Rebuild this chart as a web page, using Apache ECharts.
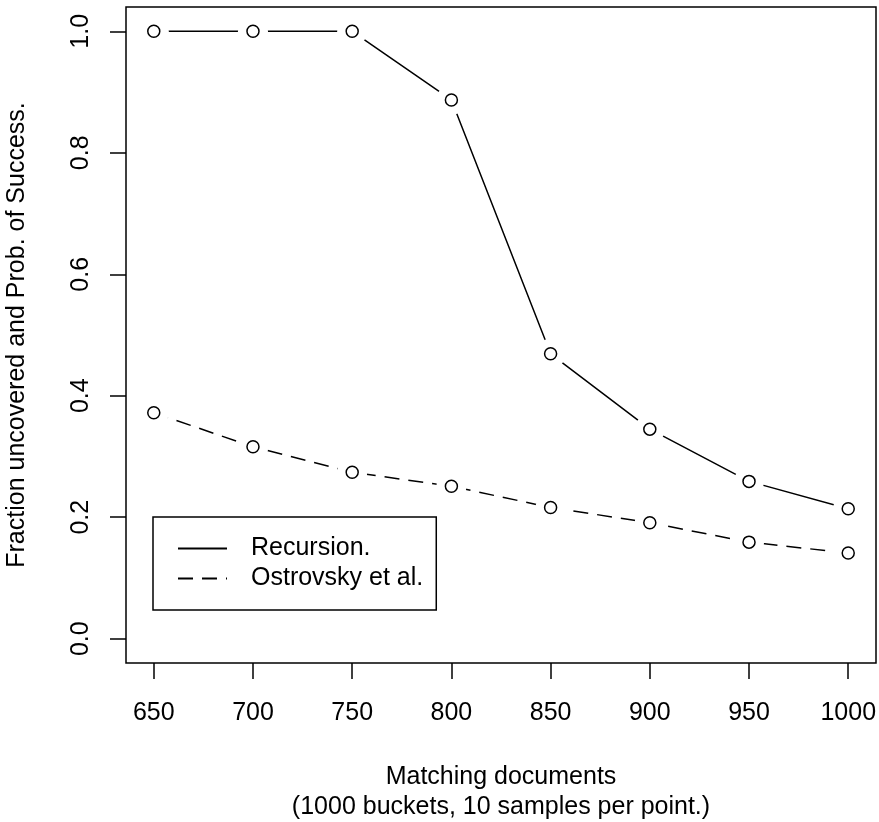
<!DOCTYPE html>
<html>
<head>
<meta charset="utf-8">
<title>Fraction uncovered</title>
<script src="https://cdn.jsdelivr.net/npm/echarts@6/dist/echarts.min.js"></script>
<style>
	html, body { margin: 0; padding: 0; background: #fff; }
	#chart { width: 879px; height: 822px; }
</style>
</head>
<body>
<div id="chart"></div>
<script>
// matching documents (x)
const docs = [650, 700, 750, 800, 850, 900, 950, 1000];
// recursion method
const recursion = [1.0, 1.0, 1.0, 0.887, 0.469, 0.345, 0.259, 0.214];
// Ostrovsky et al.
const ostrovsky = [0.372, 0.316, 0.274, 0.251, 0.216, 0.191, 0.159, 0.141];
const xTicks = [650, 700, 750, 800, 850, 900, 950, 1000];
const yTicks = [0, 0.2, 0.4, 0.6, 0.8, 1.0];

const font = "'Liberation Sans', Arial, Helvetica, sans-serif";
const pairs = (ys) => docs.map((d, i) => [d, ys[i]]);

const chart = echarts.init(document.getElementById("chart"), null, { renderer: "canvas" });

chart.setOption({
	animation: false,
	backgroundColor: "#fff",
	textStyle: { fontFamily: font, color: "#000" },
	grid: {
		left: 126,
		right: 3,
		top: 7,
		bottom: 159,
		outerBoundsMode: "none",
		containLabel: false,
		show: true,
		borderColor: "#000",
		borderWidth: 1.5,
	},
	legend: {
		data: ["Recursion.", "Ostrovsky et al."],
		orient: "vertical",
		left: 153,
		top: 517,
		padding: [19, 13, 19, 24],
		itemWidth: 49,
		itemHeight: 25,
		itemGap: 5,
		borderColor: "#000",
		borderWidth: 1.5,
		borderRadius: 0,
		selectedMode: false,
		itemStyle: { opacity: 0 },
		textStyle: {
			fontFamily: font,
			fontSize: 25,
			color: "#000",
			padding: [0, 0, 0, 19],
		},
	},
	xAxis: {
		type: "value",
		min: 636,
		max: 1014,
		name: "Matching documents\n(1000 buckets, 10 samples per point.)",
		nameLocation: "middle",
		nameGap: 99,
		nameTextStyle: { fontFamily: font, fontSize: 25, color: "#000", lineHeight: 30 },
		axisLine: { show: false, onZero: false },
		splitLine: { show: false },
		axisTick: {
			show: true,
			length: 16,
			customValues: xTicks,
			lineStyle: { color: "#000", width: 1.5 },
		},
		axisLabel: {
			customValues: xTicks,
			margin: 38,
			fontFamily: font,
			fontSize: 25,
			color: "#000",
			formatter: (v) => String(v),
		},
	},
	yAxis: {
		type: "value",
		min: -0.04,
		max: 1.04,
		name: "Fraction uncovered and Prob. of Success.",
		nameLocation: "middle",
		nameRotate: 90,
		nameGap: 96,
		nameTextStyle: { fontFamily: font, fontSize: 25, color: "#000" },
		axisLine: { show: false, onZero: false },
		splitLine: { show: false },
		axisTick: {
			show: true,
			length: 16,
			customValues: yTicks,
			lineStyle: { color: "#000", width: 1.5 },
		},
		axisLabel: {
			customValues: yTicks,
			rotate: 90,
			margin: 32,
			fontFamily: font,
			fontSize: 25,
			color: "#000",
			formatter: (v) => v.toFixed(1),
		},
	},
	series: [
		{
			name: "Recursion.",
			type: "line",
			data: pairs(recursion),
			symbol: "none",
			z: 1,
			lineStyle: { color: "#000", width: 1.5 },
		},
		{
			name: "Ostrovsky et al.",
			type: "line",
			data: pairs(ostrovsky),
			symbol: "none",
			z: 1,
			lineStyle: { color: "#000", width: 1.5, type: [15, 9] },
		},
		// white halo so the lines stop short of the points (R type = "b")
		{
			type: "scatter",
			data: pairs(recursion).concat(pairs(ostrovsky)),
			symbol: "circle",
			symbolSize: 30,
			z: 2,
			silent: true,
			itemStyle: { color: "#fff", borderWidth: 0, opacity: 1 },
		},
		{
			type: "scatter",
			data: pairs(recursion).concat(pairs(ostrovsky)),
			symbol: "circle",
			symbolSize: 12,
			z: 3,
			silent: true,
			itemStyle: { color: "#fff", borderColor: "#000", borderWidth: 1.5, opacity: 1 },
		},
	],
});
</script>
</body>
</html>
